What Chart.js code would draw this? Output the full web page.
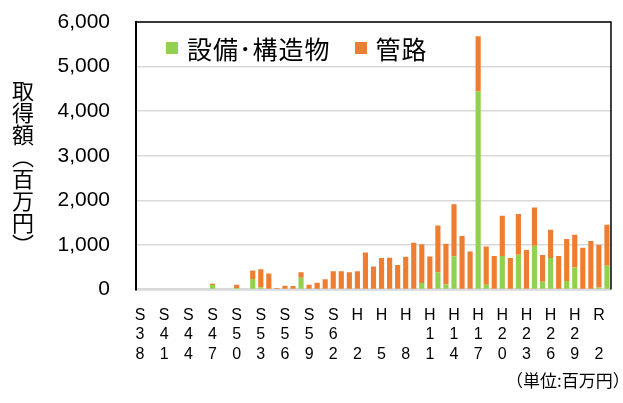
<!DOCTYPE html>
<html>
<head>
  <meta charset="utf-8">
  <title>取得額の推移</title>
  <script src="https://cdn.jsdelivr.net/npm/chart.js"></script>
  <style>
    html, body { margin: 0; padding: 0; background: #fff; overflow: hidden; }
    .wrap { position: relative; width: 623px; height: 403px; overflow: hidden; }
    .ytitle { position: absolute; left: 12px; top: 80px; writing-mode: vertical-rl; text-orientation: upright;
              font-family: "Noto Sans CJK JP", sans-serif; font-size: 22px; line-height: 22px; color: #000; }
    .legend { position: absolute; left: 166px; top: 30px; font-family: "Noto Sans CJK JP", sans-serif;
              font-size: 25px; letter-spacing: 1px; color: #000; display: flex; align-items: center; }
    .legend span.box { display: inline-block; width: 12px; height: 12px; margin-right: 9px; }
    .legend span.item { display: flex; align-items: center; margin-right: 24px; }
    .unit { position: absolute; left: 506px; top: 367px; white-space: nowrap;
            font-family: "Noto Sans CJK JP", sans-serif; font-size: 17px; }
  </style>
</head>
<body>
  <div class="wrap">
    <canvas id="chart" width="623" height="403"></canvas>
    <div class="ytitle">取得額（百万円）</div>
    <div class="legend" id="legend"></div>
    <div class="unit">（単位:百万円）</div>
  </div>
  <script>
    // 年度 (S38〜R3)
    const categories = [
      'S38','S39','S40','S41','S42','S43','S44','S45','S46','S47','S48','S49','S50',
      'S51','S52','S53','S54','S55','S56','S57','S58','S59','S60','S61','S62','S63',
      'H1','H2','H3','H4','H5','H6','H7','H8','H9','H10','H11','H12','H13','H14','H15',
      'H16','H17','H18','H19','H20','H21','H22','H23','H24','H25','H26','H27','H28',
      'H29','H30','R1','R2','R3'
    ];

    // 設備・構造物 (百万円)
    const facilities = [
      0, 0, 0, 0, 0, 0, 0, 0, 0, 100, 0, 0, 35,
      0, 235, 50, 0, 0, 0, 0, 262, 0, 0, 0, 0, 0,
      0, 0, 0, 0, 0, 0, 0, 0, 0, 147, 0, 380, 109, 740, 0,
      0, 4438, 105, 0, 750, 0, 779, 0, 980, 173, 704, 0, 188,
      494, 0, 0, 45, 532
    ];

    // 管路 (百万円)
    const pipes = [
      0, 0, 0, 0, 0, 0, 0, 0, 0, 25, 0, 0, 70,
      0, 190, 405, 356, 32, 84, 75, 126, 106, 151, 226, 406, 406,
      384, 406, 828, 515, 705, 710, 548, 736, 1048, 866, 740, 1054, 916, 1173, 1200,
      853, 1241, 860, 750, 904, 704, 913, 884, 861, 599, 636, 750, 943,
      734, 936, 1086, 958, 920
    ];

    const seriesNames = ['設備･構造物', '管路'];
    const seriesColors = ['#92D050', '#ED7D31'];

    // 3年おきに表示、1文字ずつ縦に並べる
    function tickLabel(i) {
      if (i % 3 !== 0) return '';
      const s = categories[i];
      const era = s[0];
      const num = s.slice(1);
      return num.length === 1 ? [era, '', num] : [era, num[0], num[1]];
    }

    // プロットエリアの上・右の枠線
    const frame = {
      id: 'frame',
      afterDraw(chart) {
        const a = chart.chartArea;
        const ctx = chart.ctx;
        ctx.save();
        ctx.strokeStyle = '#000';
        ctx.lineWidth = 1.5;
        ctx.beginPath();
        ctx.moveTo(a.left, a.top);
        ctx.lineTo(a.right, a.top);
        ctx.lineTo(a.right, a.bottom);
        ctx.stroke();
        ctx.restore();
      }
    };

    new Chart(document.getElementById('chart'), {
      type: 'bar',
      data: {
        labels: categories,
        datasets: [{
          label: seriesNames[0],
          data: facilities,
          backgroundColor: seriesColors[0]
        },
        {
          label: seriesNames[1],
          data: pipes,
          backgroundColor: seriesColors[1]
        }]
      },
      options: {
        responsive: false,
        animation: false,
        layout: { padding: { top: 22, right: 5, left: 0, bottom: 23 } },
        datasets: { bar: { categoryPercentage: 0.64, barPercentage: 1 } },
        plugins: { legend: { display: false }, tooltip: { enabled: false } },
        scales: {
          x: {
            stacked: true,
            grid: { display: false, drawTicks: false },
            border: { color: '#d9d9d9', width: 2.5 },
            ticks: {
              autoSkip: false, maxRotation: 0, minRotation: 0, padding: 16,
              color: '#000',
              font: { family: 'Liberation Sans, Arial, sans-serif', size: 16, lineHeight: 1.22 },
              callback: (v, i) => tickLabel(i)
            }
          },
          y: {
            stacked: true,
            min: 0, max: 6000,
            grid: { color: '#d9d9d9', lineWidth: 1.5, drawTicks: true, tickLength: 24, tickColor: 'rgba(0,0,0,0)' },
            border: { color: '#000', width: 2 },
            afterFit: (scale) => { scale.width = 136; },
            ticks: {
              stepSize: 1000, padding: 2, color: '#000',
              font: { family: 'Liberation Sans, Arial, sans-serif', size: 21 },
              callback: (v) => v.toLocaleString('en-US')
            }
          }
        }
      },
      plugins: [frame]
    });

    // 凡例
    const legend = document.getElementById('legend');
    seriesNames.forEach((name, i) => {
      const item = document.createElement('span');
      item.className = 'item';
      item.innerHTML = '<span class="box" style="background:' + seriesColors[i] + '"></span>' + name;
      legend.appendChild(item);
    });
  </script>
</body>
</html>
